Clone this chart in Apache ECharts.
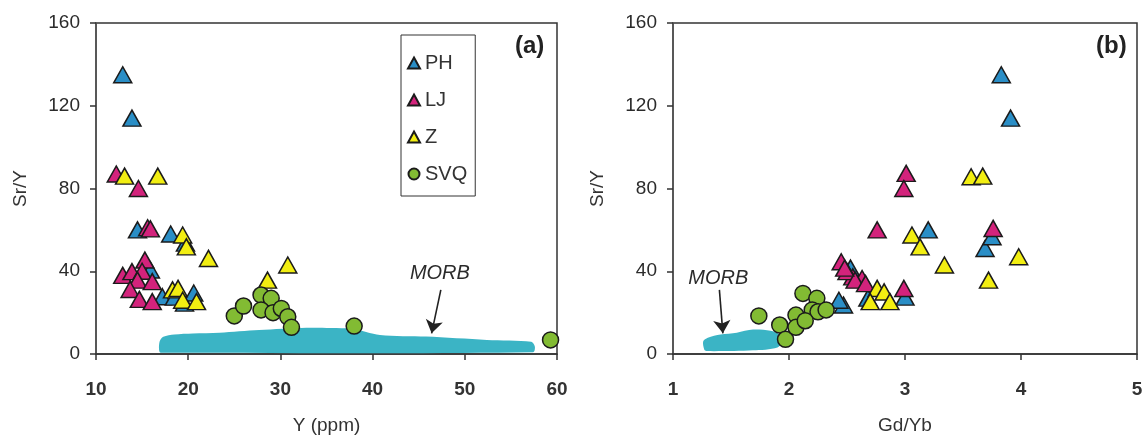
<!DOCTYPE html>
<html>
<head>
<meta charset="utf-8">
<script src="https://cdn.jsdelivr.net/npm/echarts@6/dist/echarts.min.js"></script>
<style>
html,body{margin:0;padding:0;background:#fff;}
#chart{width:1148px;height:439px;}
</style>
</head>
<body>
<div id="chart"></div>
<script>
// ---- Panel (a): Y (ppm) vs Sr/Y ----
const PH_a_x  = [12.9, 13.9, 14.5, 18.1, 15.9, 17.2, 19.6, 20.6, 19.7, 18.5];
const PH_a_y  = [135, 114, 60, 58, 40.6, 27.7, 24.6, 29.5, 53.6, 27.5];
const LJ_a_x  = [12.2, 14.6, 15.6, 15.9, 12.9, 13.9, 15.3, 15.0, 14.5, 16.1, 13.7, 14.7, 16.1];
const LJ_a_y  = [87, 80, 61, 60.5, 38, 39.8, 45.4, 40, 35.7, 35, 31.2, 26.4, 25.3];
const Z_a_x   = [13.1, 16.7, 19.4, 19.8, 22.2, 18.3, 18.9, 19.4, 20.9, 28.6, 30.8];
const Z_a_y   = [86, 86, 57.5, 51.8, 46.2, 31, 31.7, 26, 25.3, 35.7, 43];
const SVQ_a_x = [25.0, 26.0, 27.9, 29.0, 27.9, 29.2, 30.1, 30.8, 31.2, 38.0, 59.3];
const SVQ_a_y = [18.4, 23.2, 28.5, 26.9, 21.3, 20.0, 22.0, 18.0, 12.9, 13.5, 6.8];
const MORB_a_x = [16.9, 16.9, 17.3, 18.5, 20.5, 23.4, 27.7, 32.8, 35.5, 37.8, 40.8, 45.8, 52.4, 57.2, 57.6, 57.4, 17.5];
const MORB_a_y = [1, 6, 8.3, 9.4, 9.9, 10.3, 11.6, 12.7, 12.6, 12.2, 9.2, 8.4, 6.8, 5.9, 3.5, 0.8, 0.6];

// ---- Panel (b): Gd/Yb vs Sr/Y ----
const PH_b_x  = [3.83, 3.91, 3.20, 3.69, 3.75, 3.00, 2.53, 2.47, 2.43, 2.68];
const PH_b_y  = [135, 114, 60, 51, 56.7, 27.5, 41.5, 23.7, 26, 27];
const LJ_b_x  = [3.01, 2.99, 2.76, 3.76, 2.63, 2.55, 2.45, 2.50, 2.57, 2.99, 2.66, 2.48];
const LJ_b_y  = [87.3, 80, 60, 60.7, 36.5, 37.3, 44.6, 39.8, 35.7, 31.7, 34, 41.5];
const Z_b_x   = [3.57, 3.67, 3.06, 3.13, 3.34, 3.98, 3.72, 2.76, 2.82, 2.70, 2.87];
const Z_b_y   = [85.7, 86, 57.5, 51.8, 43, 47, 35.7, 31.7, 30, 25.3, 25.3];
const SVQ_b_x = [1.74, 1.92, 1.97, 2.06, 2.06, 2.12, 2.24, 2.20, 2.25, 2.32, 2.14];
const SVQ_b_y = [18.4, 14, 7.1, 18.8, 12.9, 29.3, 26.9, 21.3, 20.4, 21.3, 16.1];
const MORB_b_x = [1.27, 1.26, 1.30, 1.41, 1.55, 1.69, 1.84, 1.92, 1.95, 1.90, 1.69, 1.29];
const MORB_b_y = [2, 6, 7.8, 9.4, 10.3, 11.8, 11.2, 9.4, 6.8, 3.2, 1.8, 1.4];

// annotation anchors [x, y]
const MORB_a_label = [47.3, 39];
const MORB_a_arrow = [[47.4, 31], [46.4, 10]];
const MORB_b_label = [1.39, 36.6];
const MORB_b_arrow = [[1.40, 31], [1.43, 10]];

const xTicksA = {min: 10, max: 60, interval: 10};
const xTicksB = {min: 1, max: 5, interval: 1};
const yTicks  = {min: 0, max: 160, interval: 40};

const FONT = '"Liberation Sans", Arial, sans-serif';
const COL = {PH: '#2a8ec6', LJ: '#d3237c', Z: '#f2ee12', SVQ: '#82bb33', MORB: '#3bb4c5'};
const EDGE = '#1b1b1b';

function zip(xs, ys) { return xs.map((x, i) => [x, ys[i]]); }

function scatter(name, xs, ys, idx, isCircle) {
  return {
    type: 'scatter', name: name, xAxisIndex: idx, yAxisIndex: idx,
    data: zip(xs, ys),
    symbol: isCircle ? 'circle' : 'triangle',
    symbolSize: isCircle ? 16 : [18, 16],
    itemStyle: {color: COL[name], borderColor: EDGE, borderWidth: 1.5, opacity: 1},
    z: 5, silent: true
  };
}

function morb(xs, ys, idx, labelAt, arrow) {
  return {
    type: 'custom', name: 'MORB' + idx, xAxisIndex: idx, yAxisIndex: idx,
    data: [[xs[0], ys[0]]], z: 2, silent: true, clip: true,
    renderItem: function (params, api) {
      if (params.dataIndex !== 0) return;
      const pts = xs.map((x, i) => api.coord([x, ys[i]]));
      return {type: 'polygon', shape: {points: pts, smooth: 0.3}, style: {fill: COL.MORB}};
    },
    markLine: {
      silent: true, symbol: ['none', 'arrow'], symbolSize: 13,
      lineStyle: {color: '#222', width: 1.6, type: 'solid'},
      label: {show: false},
      data: [[{coord: arrow[0]}, {coord: arrow[1]}]]
    },
    markPoint: {
      silent: true, symbol: 'circle', symbolSize: 0,
      label: {show: true, formatter: 'MORB', position: 'inside', fontFamily: FONT,
              fontStyle: 'italic', fontSize: 20, color: '#2b2b2b'},
      data: [{coord: labelAt}]
    }
  };
}

function xAxis(idx, ticks, name) {
  return {
    type: 'value', gridIndex: idx, min: ticks.min, max: ticks.max, interval: ticks.interval,
    name: name, nameLocation: 'middle', nameGap: 62,
    nameTextStyle: {fontFamily: FONT, fontSize: 19, color: '#333'},
    axisLine: {show: true, onZero: false, lineStyle: {color: '#333', width: 1.5}},
    axisTick: {show: true, inside: false, length: 6, lineStyle: {color: '#333', width: 1.5}},
    axisLabel: {fontFamily: FONT, fontSize: 19, fontWeight: 'bold', color: '#333', margin: 26},
    splitLine: {show: false}
  };
}
function yAxis(idx) {
  return {
    type: 'value', gridIndex: idx, min: yTicks.min, max: yTicks.max, interval: yTicks.interval,
    name: 'Sr/Y', nameLocation: 'middle', nameGap: 66, nameRotate: 90,
    nameTextStyle: {fontFamily: FONT, fontSize: 19, color: '#333'},
    axisLine: {show: true, onZero: false, lineStyle: {color: '#555', width: 1.5}},
    axisTick: {show: true, inside: false, length: 6, lineStyle: {color: '#333', width: 1.5}},
    axisLabel: {fontFamily: FONT, fontSize: 19, color: '#2b2b2b', margin: 16},
    splitLine: {show: false}
  };
}

const chart = echarts.init(document.getElementById('chart'), null, {renderer: 'canvas'});
chart.setOption({
  animation: false,
  backgroundColor: '#fff',
  grid: [
    {left: 96, top: 23, width: 461, height: 331, show: true, borderColor: '#333', borderWidth: 1.5,
     backgroundColor: 'transparent', containLabel: false, outerBoundsMode: 'none'},
    {left: 673, top: 23, width: 464, height: 331, show: true, borderColor: '#333', borderWidth: 1.5,
     backgroundColor: 'transparent', containLabel: false, outerBoundsMode: 'none'}
  ],
  xAxis: [xAxis(0, xTicksA, 'Y (ppm)'), xAxis(1, xTicksB, 'Gd/Yb')],
  yAxis: [yAxis(0), yAxis(1)],
  legend: {
    data: ['PH', 'LJ', 'Z', 'SVQ'],
    orient: 'vertical', left: 401, top: 35,
    padding: [18, 8, 12, 6], itemGap: 17, itemWidth: 12, itemHeight: 11, itemTextGap: 8,
    borderColor: '#333', borderWidth: 1, backgroundColor: '#fff',
    textStyle: {fontFamily: FONT, fontSize: 20, color: '#333'},
    selectedMode: false
  },
  graphic: [
    {type: 'text', left: 515, top: 34, style: {text: '(a)', font: 'bold 24px ' + FONT, fill: '#222'}},
    {type: 'text', left: 1096, top: 34, style: {text: '(b)', font: 'bold 24px ' + FONT, fill: '#222'}}
  ],
  series: [
    morb(MORB_a_x, MORB_a_y, 0, MORB_a_label, MORB_a_arrow),
    morb(MORB_b_x, MORB_b_y, 1, MORB_b_label, MORB_b_arrow),
    scatter('PH', PH_a_x, PH_a_y, 0, false),
    scatter('LJ', LJ_a_x, LJ_a_y, 0, false),
    scatter('Z', Z_a_x, Z_a_y, 0, false),
    scatter('SVQ', SVQ_a_x, SVQ_a_y, 0, true),
    scatter('PH', PH_b_x, PH_b_y, 1, false),
    scatter('LJ', LJ_b_x, LJ_b_y, 1, false),
    scatter('Z', Z_b_x, Z_b_y, 1, false),
    scatter('SVQ', SVQ_b_x, SVQ_b_y, 1, true)
  ]
});
</script>
</body>
</html>
